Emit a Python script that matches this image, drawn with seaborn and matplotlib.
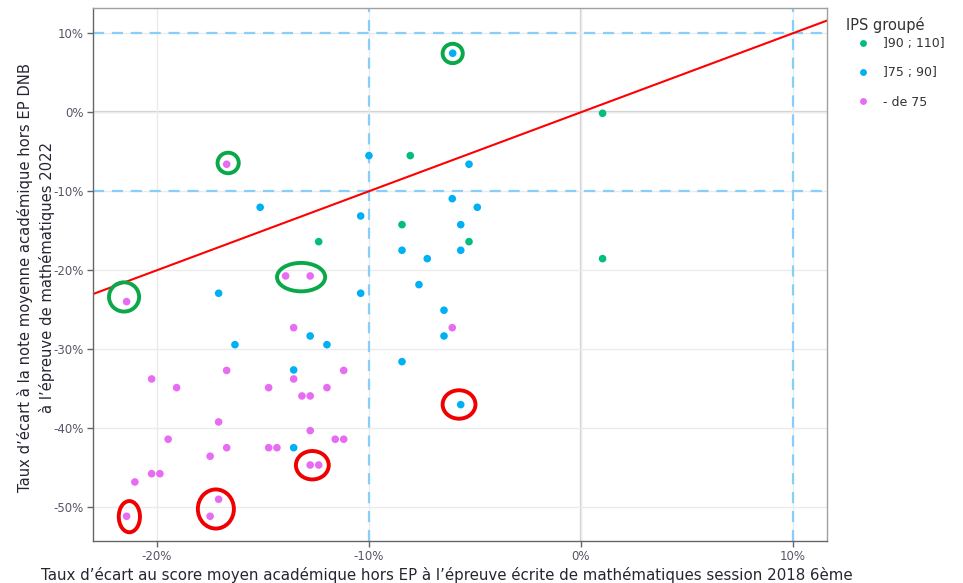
import numpy as np
import pandas as pd
import matplotlib
matplotlib.use("Agg")
import matplotlib.pyplot as plt
from matplotlib.patches import Ellipse
from matplotlib.ticker import FuncFormatter
import seaborn as sns

# ── données (en %) ─────────────────────────────────────────
groups = ["]90 ; 110]", "]75 ; 90]", "- de 75"]

green_x = [-8.05, -8.44, -5.28, 1.02, 1.02, -12.37]
green_y = [-5.49, -14.23, -16.38, -18.53, -0.13, -16.38]

blue_x = [-6.05, -10.0, -5.28, -15.13, -10.39, -6.07, -4.89, -5.67, -8.44, -5.67,
          -7.25, -17.09, -10.39, -7.64, -6.46, -12.77, -6.46, -16.32, -11.98,
          -13.55, -8.44, -5.67, -13.55]
blue_y = [7.47, -5.49, -6.58, -12.03, -13.13, -10.94, -12.03, -14.23, -17.47, -17.47,
          -18.53, -22.91, -22.91, -21.82, -25.06, -28.32, -28.32, -29.42, -29.42,
          -32.62, -31.57, -37.01, -42.46]

pink_x = [-16.71, -13.93, -12.77, -21.43, -13.55, -6.07, -16.71, -11.19, -20.25,
          -13.55, -19.07, -14.73, -11.98, -13.16, -12.77, -17.09, -12.77, -19.47,
          -11.59, -11.19, -16.71, -14.73, -14.34, -17.49, -12.77, -12.37, -20.25,
          -19.86, -21.04, -17.09, -21.43, -17.49]
pink_y = [-6.58, -20.72, -20.72, -23.97, -27.27, -27.27, -32.68, -32.68, -33.76,
          -33.76, -34.86, -34.86, -34.86, -35.91, -35.91, -39.20, -40.30, -41.39,
          -41.39, -41.39, -42.46, -42.46, -42.46, -43.54, -44.65, -44.65, -45.75,
          -45.75, -46.80, -48.99, -51.14, -51.14]

# entourages ajoutés à la main sur le graphique (centre x, centre y, largeur, hauteur)
green_marks = [(-6.05, 7.44, 0.95, 2.45), (-16.64, -6.42, 1.0, 2.6),
               (-13.20, -20.87, 2.27, 3.6), (-21.55, -23.38, 1.42, 3.7)]
red_marks = [(-5.75, -36.99, 1.55, 3.6), (-12.67, -44.68, 1.55, 3.6),
             (-17.22, -50.22, 1.7, 4.95), (-21.3, -51.19, 1.0, 3.95)]

df = pd.DataFrame({
    "x": green_x + blue_x + pink_x,
    "y": green_y + blue_y + pink_y,
    "IPS groupé": [groups[0]] * len(green_x) + [groups[1]] * len(blue_x)
    + [groups[2]] * len(pink_x),
})

palette = {groups[0]: "#00BF7D", groups[1]: "#00B0F6", groups[2]: "#E76BF3"}

# ── figure ─────────────────────────────────────────────────
sns.set_theme(style="white")
plt.rcParams["font.family"] = ["DejaVu Sans"]

fig = plt.figure(figsize=(9.63, 5.83), dpi=100)
ax = fig.add_axes([0.0969, 0.0726, 0.7622, 0.9132])

ax.set_xlim(-23.0, 11.62)
ax.set_ylim(-54.23, 13.16)
ax.set_xticks([-20, -10, 0, 10])
ax.set_yticks([-50, -40, -30, -20, -10, 0, 10])
pct = FuncFormatter(lambda v, _: f"{v:.0f}%")
ax.xaxis.set_major_formatter(pct)
ax.yaxis.set_major_formatter(pct)

ax.grid(True, color="#EBEBEB", lw=1.0, zorder=0)
ax.axhline(0, color="#CFCFCF", lw=1.6, zorder=0.5)
ax.axvline(0, color="#CFCFCF", lw=1.6, zorder=0.5)
for v in (-10, 10):
    ax.axhline(v, color="#87CEFA", lw=1.6, ls=(0, (5, 3.5)), zorder=1)
    ax.axvline(v, color="#87CEFA", lw=1.6, ls=(0, (5, 3.5)), zorder=1)

ax.axline((0, 0), slope=1, color="#FF0000", lw=1.5, zorder=2)

sns.scatterplot(data=df, x="x", y="y", hue="IPS groupé", hue_order=groups,
                palette=palette, s=30, linewidth=0, ax=ax, zorder=3)

for cx, cy, w, h in green_marks:
    ax.add_patch(Ellipse((cx, cy), w, h, fill=False, ec="#0BA84A", lw=2.8, zorder=4))
for cx, cy, w, h in red_marks:
    ax.add_patch(Ellipse((cx, cy), w, h, fill=False, ec="#F00000", lw=2.8, zorder=4))

for side in ("left", "bottom"):
    ax.spines[side].set_color("#666666")
for side in ("top", "right"):
    ax.spines[side].set_color("#A0A0A0")
for s in ax.spines.values():
    s.set_linewidth(1.0)

ax.tick_params(axis="both", which="major", length=4, width=1, color="#666666",
               labelsize=8.5, labelcolor="#555566", direction="out",
               bottom=True, left=True, pad=3)

ax.set_xlabel("Taux d’écart au score moyen académique hors EP à l’épreuve écrite "
              "de mathématiques session 2018 6ème", fontsize=10.8, color="#262633")
ax.xaxis.set_label_coords(0.481, -0.05)
ax.set_ylabel("Taux d’écart à la note moyenne académique hors EP DNB\n"
              "à l’épreuve de mathématiques 2022", fontsize=10.6, color="#262633",
              linespacing=1.45)
ax.yaxis.set_label_coords(-0.052, 0.494)

leg = ax.legend(loc="upper left", bbox_to_anchor=(1.025, 0.955),
                frameon=False, fontsize=9, labelspacing=1.3,
                handletextpad=0.55, borderaxespad=0, markerscale=0.9)
for t in leg.get_texts():
    t.set_color("#333333")
fig.text(846 / 963, 1 - 25 / 583, "IPS groupé", fontsize=10.5, color="#333333",
         ha="left", va="center")

fig.savefig("out.png", dpi=100)
